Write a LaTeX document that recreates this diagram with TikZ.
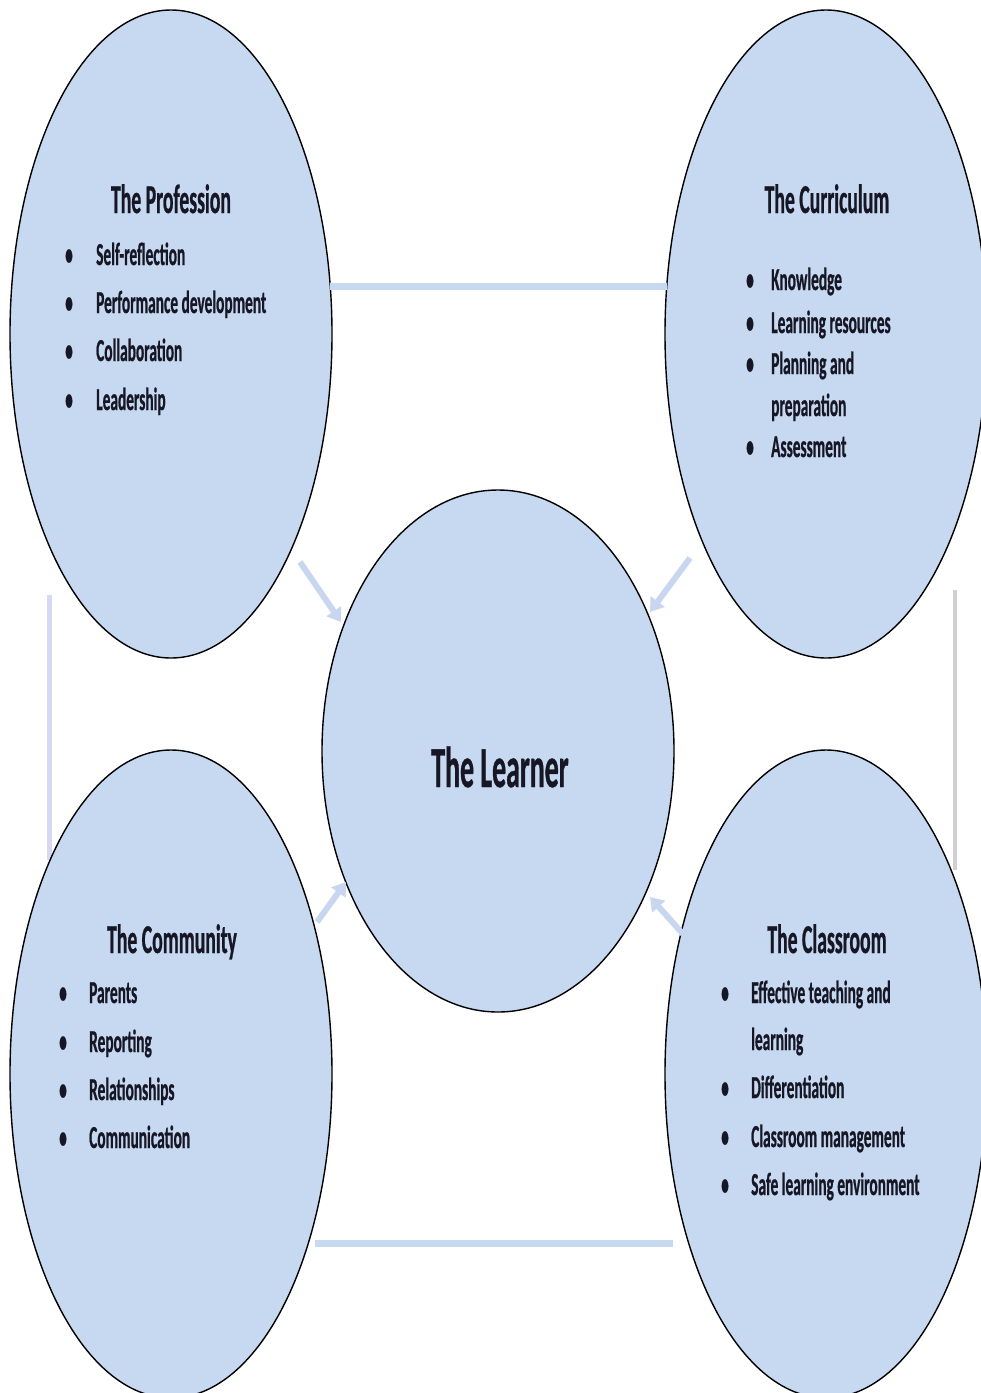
\documentclass[tikz,border=0pt]{standalone}
\usepackage{fontspec}
\newfontfamily\cfont[FakeStretch=0.48,BoldFont={Carlito Bold},BoldFeatures={FakeBold=0.6}]{Carlito}
\usetikzlibrary{shapes.geometric,arrows.meta,calc}
\definecolor{fillb}{RGB}{198,217,241}
\definecolor{arrb}{RGB}{200,214,240}
\definecolor{lav}{RGB}{214,216,244}
\definecolor{grayl}{RGB}{208,208,212}
\definecolor{ink}{RGB}{22,22,36}
\tikzset{
  bubble/.style={ellipse, draw=black, line width=1.4pt, fill=fillb, inner sep=0pt},
  link/.style={line width=7pt, fillb},
  flow/.style={line width=6pt, arrb, -{Triangle[length=13pt,width=17pt]}},
  ttl/.style={anchor=base, inner sep=0pt, text=ink, font=\cfont\bfseries\fontsize{41}{41}\selectfont},
  itm/.style={anchor=base west, inner sep=0pt, text=ink, font=\cfont\bfseries\fontsize{32}{32}\selectfont},
  big/.style={anchor=base, inner sep=0pt, text=ink, font=\cfont\bfseries\fontsize{58}{58}\selectfont}
}
\newcommand{\bl}[1]{\makebox[#1][l]{•}}
\begin{document}
\begin{tikzpicture}[x=1pt,y=-1pt]
\useasboundingbox (0,0) rectangle (981,1393);
\clip (0,0) rectangle (981,1393);
% ellipse coordinates (centres)
\coordinate (cp) at (171,334);
\coordinate (cc) at (826,334);
\coordinate (cm) at (171,1074);
\coordinate (cr) at (826,1074);
% connectors behind
\draw[line width=5pt, lav] ($(cp)+(-122,261)$) coordinate (l1) -- ($(cm)+(-122,-214)$) coordinate (l2);
\draw[line width=4pt, grayl] ($(cc)+(129,256)$) coordinate (r1) -- ($(cr)+(129,-204)$) coordinate (r2);
% ellipses
\node[bubble, minimum width=322pt, minimum height=648pt] (prof) at (cp) {};
\node[bubble, minimum width=322pt, minimum height=648pt] (curr) at (cc) {};
\node[bubble, minimum width=322pt, minimum height=648pt] (comm) at (cm) {};
\node[bubble, minimum width=322pt, minimum height=648pt] (class) at (cr) {};
\node[bubble, minimum width=352pt, minimum height=522pt] (learn) at (498,751) {};
% horizontal links
\coordinate (t1) at ($(prof.center)+(159,-48)$);
\coordinate (t2) at ($(curr.center)+(-159,-48)$);
\draw[link] (t1) -- (t2);
\coordinate (b1) at ($(comm.center)+(144,169)$);
\coordinate (b2) at ($(class.center)+(-153,169)$);
\draw[link] (b1) -- (b2);
% arrows
\coordinate (a1) at ($(prof.center)+(129,228)$);
\coordinate (a2) at ($(curr.center)+(-136,224)$);
\coordinate (a3) at ($(comm.center)+(146,-152)$);
\coordinate (a4) at ($(class.center)+(-143,-140)$);
\coordinate (e1) at ($(learn.center)+(-157,-129)$);
\coordinate (e2) at ($(learn.center)+(152,-139)$);
\coordinate (e3) at ($(learn.center)+(-152,131)$);
\coordinate (e4) at ($(learn.center)+(152,146)$);
\draw[flow] (a1) -- (e1);
\draw[flow] (a2) -- (e2);
\draw[flow] (a3) -- (e3);
\draw[flow] (a4) -- (e4);
% texts
\node[big] (tl) at (500,787) {The Learner};
\node[ttl] (tp) at (171,213) {The Profession};
\node[itm] (p1) at (65,265) {\bl{31pt}Self-reflection};
\node[itm] (p2) at (65,313) {\bl{31pt}Performance development};
\node[itm] (p3) at (65,361) {\bl{31pt}Collaboration};
\node[itm] (p4) at (65,410) {\bl{31pt}Leadership};
\node[ttl] (tc) at (827,213) {The Curriculum};
\node[itm] (c1) at (746,290) {\bl{25pt}Knowledge};
\node[itm] (c2) at (746,333) {\bl{25pt}Learning resources};
\node[itm] (c3) at (746,374) {\bl{25pt}Planning and};
\node[itm] (c4) at (771,416) {preparation};
\node[itm] (c5) at (746,457) {\bl{25pt}Assessment};
\node[ttl] (tm) at (172,953) {The Community};
\node[itm] (m1) at (59,1003) {\bl{30pt}Parents};
\node[itm] (m2) at (59,1052) {\bl{30pt}Reporting};
\node[itm] (m3) at (59,1100) {\bl{30pt}Relationships};
\node[itm] (m4) at (59,1148) {\bl{30pt}Communication};
\node[ttl] (tr) at (827,953) {The Classroom};
\node[itm] (r1t) at (721,1003) {\bl{30pt}Effective teaching and};
\node[itm] (r2t) at (751,1050) {learning};
\node[itm] (r3t) at (721,1098) {\bl{30pt}Differentiation};
\node[itm] (r4t) at (721,1147) {\bl{30pt}Classroom management};
\node[itm] (r5t) at (721,1195) {\bl{30pt}Safe learning environment};
\end{tikzpicture}
\end{document}
